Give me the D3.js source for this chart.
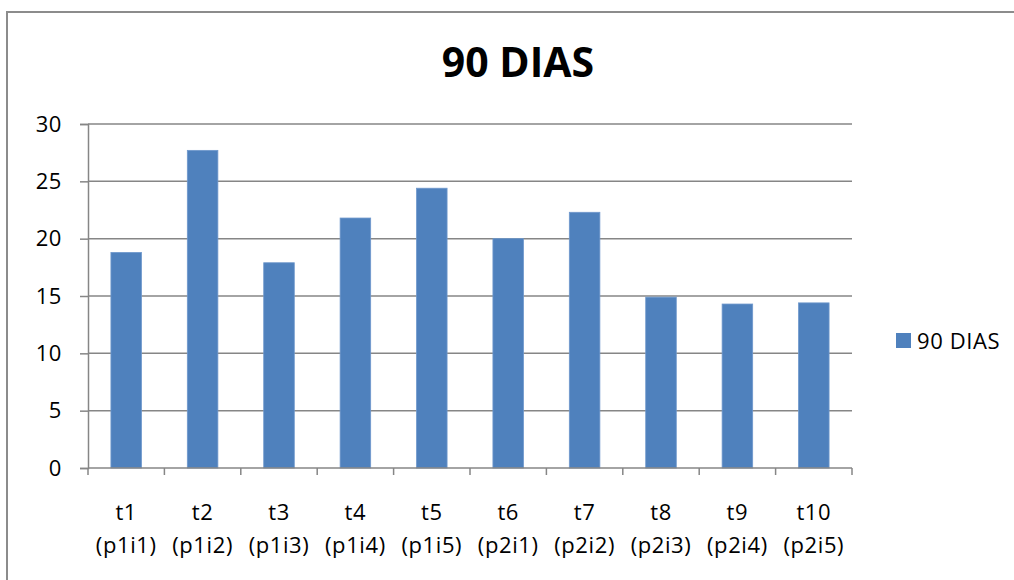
<!DOCTYPE html>
<html>
<head>
<meta charset="utf-8">
<script src="https://cdn.jsdelivr.net/npm/d3@7"></script>
<style>
  body { margin: 0; background: #fff; }
  svg text { font-family: "Open Sans", "Noto Sans", sans-serif; fill: #000; }
</style>
</head>
<body>
<div id="chart"></div>
<script>
// chart data
var categories = ["t1", "t2", "t3", "t4", "t5", "t6", "t7", "t8", "t9", "t10"];
var subLabels = ["(p1i1)", "(p1i2)", "(p1i3)", "(p1i4)", "(p1i5)", "(p2i1)", "(p2i2)", "(p2i3)", "(p2i4)", "(p2i5)"];
var values = [18.8, 27.7, 17.9, 21.8, 24.4, 20.0, 22.3, 14.9, 14.3, 14.4];
var yTicks = [0, 5, 10, 15, 20, 25, 30];
var seriesName = "90 DIAS";
var title = "90 DIAS";

var width = 1014, height = 580;
var margin = {top: 124, left: 88, right: 162, bottom: 112};
var barColor = "#4f81bd", gridColor = "#868686";
var fontSize = "22px", spacing = "0.6px";

var svg = d3.select("#chart").append("svg")
    .attr("width", width)
    .attr("height", height);

// chart frame (runs off the right and bottom edge)
svg.append("rect")
    .attr("x", 7).attr("y", 12)
    .attr("width", width + 20).attr("height", height + 20)
    .attr("fill", "none")
    .attr("stroke", "#8c8c8c")
    .attr("stroke-width", 2);

var x = d3.scaleBand()
    .domain(categories)
    .range([margin.left, width - margin.right])
    .paddingInner(0.6)
    .paddingOuter(0.3);

var y = d3.scaleLinear()
    .domain([0, 30])
    .range([height - margin.bottom, margin.top]);

// gridlines
svg.append("g")
  .selectAll("line")
  .data(yTicks.filter(function(d) { return d > 0; }))
  .enter().append("line")
    .attr("x1", margin.left)
    .attr("x2", width - margin.right)
    .attr("y1", function(d) { return y(d); })
    .attr("y2", function(d) { return y(d); })
    .attr("stroke", gridColor)
    .attr("stroke-width", 1.5);

// y axis
var yAxis = svg.append("g")
    .attr("transform", "translate(" + margin.left + ",0)")
    .call(d3.axisLeft(y).tickValues(yTicks).tickSize(8).tickPadding(18));

yAxis.select(".domain").attr("stroke", gridColor).attr("stroke-width", 1.5);
yAxis.selectAll(".tick line").attr("stroke", gridColor).attr("stroke-width", 1.5);
yAxis.selectAll(".tick text")
    .style("font-size", fontSize)
    .style("letter-spacing", spacing);

// bars
svg.append("g")
  .selectAll("rect")
  .data(values)
  .enter().append("rect")
    .attr("x", function(d, i) { return x(categories[i]); })
    .attr("y", function(d) { return y(d); })
    .attr("width", x.bandwidth())
    .attr("height", function(d) { return y(0) - y(d); })
    .attr("fill", barColor)
    .attr("stroke", "#6f98cc")
    .attr("stroke-width", 0.8);

// x axis line + ticks at category boundaries
var step = x.step();
var x0 = margin.left;
var bounds = d3.range(categories.length + 1).map(function(i) { return x0 + i * step; });

svg.append("line")
    .attr("x1", margin.left)
    .attr("x2", width - margin.right)
    .attr("y1", y(0))
    .attr("y2", y(0))
    .attr("stroke", gridColor)
    .attr("stroke-width", 1.5);

svg.append("g")
  .selectAll("line")
  .data(bounds)
  .enter().append("line")
    .attr("x1", function(d) { return d; })
    .attr("x2", function(d) { return d; })
    .attr("y1", y(0))
    .attr("y2", y(0) + 7)
    .attr("stroke", gridColor)
    .attr("stroke-width", 1.5);

// x labels, two lines
var xl = svg.append("g")
  .selectAll("text")
  .data(categories)
  .enter().append("text")
    .attr("x", function(d) { return x(d) + x.bandwidth() / 2; })
    .attr("text-anchor", "middle")
    .style("font-size", fontSize)
    .style("letter-spacing", spacing);

xl.append("tspan")
    .attr("x", function(d) { return x(d) + x.bandwidth() / 2; })
    .attr("y", 520)
    .text(function(d) { return d; });

xl.append("tspan")
    .attr("x", function(d) { return x(d) + x.bandwidth() / 2; })
    .attr("y", 553)
    .text(function(d, i) { return subLabels[i]; });

// title
svg.append("text")
    .attr("x", 518)
    .attr("y", 77)
    .attr("text-anchor", "middle")
    .style("font-size", "41px")
    .style("font-weight", "bold")
    .text(title);

// legend
var legend = svg.append("g").attr("transform", "translate(896,333)");
legend.append("rect")
    .attr("width", 15).attr("height", 15)
    .attr("fill", barColor);
legend.append("text")
    .attr("x", 21)
    .attr("y", 16)
    .style("font-size", fontSize)
    .style("letter-spacing", spacing)
    .text(seriesName);
</script>
</body>
</html>
